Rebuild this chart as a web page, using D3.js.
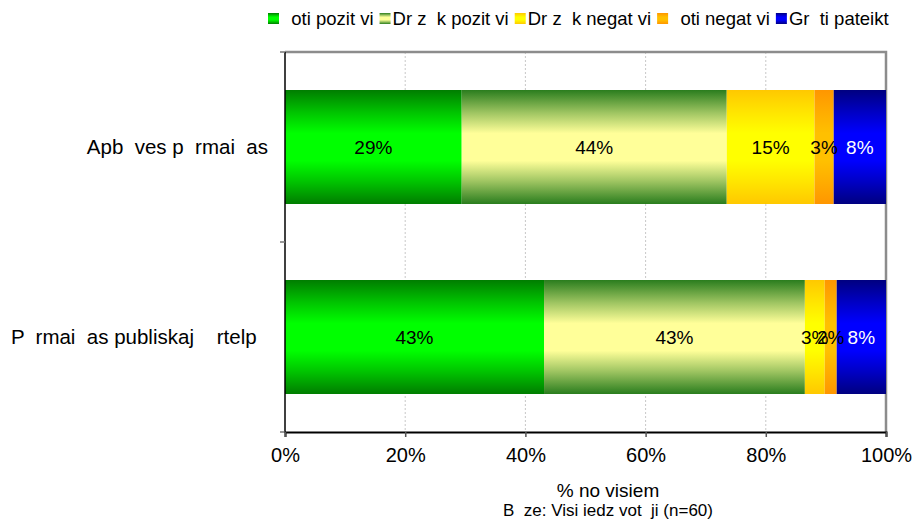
<!DOCTYPE html>
<html><head><meta charset="utf-8">
<script src="https://cdn.jsdelivr.net/npm/d3@7"></script>
<style>
html,body{margin:0;padding:0;background:#fff;}
text{font-family:"Liberation Sans",Arial,sans-serif;white-space:pre;}
</style></head>
<body><svg id="c" width="914" height="521"></svg>
<script>
// ---- data ----
const categories = ["Apb  ves p  rmai  as", "P  rmai  as publiskaj    rtelp  "];
const seriesNames = ["  oti pozit vi", "Dr z  k pozit vi", "Dr z  k negat vi", "  oti negat vi", "Gr  ti pateikt"];
const valuesRow1 = [29.4, 44.1, 14.6, 3.2, 8.7];
const valuesRow2 = [43.1, 43.4, 3.3, 2.0, 8.2];
const labelsRow1 = ["29%", "44%", "15%", "3%", "8%"];
const labelsRow2 = ["43%", "43%", "3%", "2%", "8%"];
const xTicks = [0, 20, 40, 60, 80, 100];
const xTitle = "% no visiem";
const footnote = "B  ze: Visi iedz vot  ji (n=60)";

// ---- styles ----
const gradEdge = ["#007d00", "#2a7d1e", "#ffc800", "#ff9600", "#000080"];
const gradMid  = ["#00ff00", "#ffff99", "#ffff00", "#ffc000", "#0000ff"];
const labelColor = ["#000", "#000", "#000", "#000", "#fff"];

const svg = d3.select("#c");
const L = 285, R = 886, T = 52, B = 432;

const defs = svg.append("defs");
gradEdge.forEach((e, i) => {
  const g = defs.append("linearGradient").attr("id", "g" + i)
    .attr("x1", 0).attr("y1", 0).attr("x2", 0).attr("y2", 1);
  const mix = d3.interpolateRgb(e, gradMid[i]);
  [[0, e], [0.2, mix(0.55)], [0.38, gradMid[i]], [0.62, gradMid[i]], [0.8, mix(0.55)], [1, e]]
    .forEach(([o, c]) => g.append("stop").attr("offset", o).attr("stop-color", c));
});

const x = d3.scaleLinear().domain([0, 100]).range([L, R]);
const y = d3.scaleBand().domain(categories).range([T, B]).paddingInner(0.4).paddingOuter(0.2);

// gridlines
svg.append("g").selectAll("line").data(xTicks.slice(1, -1)).join("line")
  .attr("x1", d => x(d)).attr("x2", d => x(d)).attr("y1", T).attr("y2", B)
  .attr("stroke", "#c8c8c8").attr("stroke-width", 1).attr("stroke-dasharray", "2,2");

// plot border (top, right)
svg.append("path").attr("d", `M${L},${T}H${R}V${B}`).attr("fill", "none")
  .attr("stroke", "#8c8c8c").attr("stroke-width", 2.5);

// bars
const rows = [
  {cat: categories[0], vals: valuesRow1, labs: labelsRow1},
  {cat: categories[1], vals: valuesRow2, labs: labelsRow2}
];
rows.forEach(r => {
  let cum = 0;
  const segs = r.vals.map((v, i) => { const s = {i, x0: cum, x1: cum + v, lab: r.labs[i]}; cum += v; return s; });
  const g = svg.append("g");
  g.selectAll("rect").data(segs).join("rect")
    .attr("x", d => x(d.x0)).attr("width", d => x(d.x1) - x(d.x0))
    .attr("y", y(r.cat)).attr("height", y.bandwidth())
    .attr("fill", d => `url(#g${d.i})`);
  g.selectAll("text").data(segs).join("text")
    .attr("x", d => (x(d.x0) + x(d.x1)) / 2)
    .attr("y", y(r.cat) + y.bandwidth() / 2)
    .attr("dy", "0.35em").attr("text-anchor", "middle")
    .attr("font-size", 19).attr("fill", d => labelColor[d.i])
    .text(d => d.lab);
});

// left axis line & ticks
svg.append("line").attr("x1", L).attr("x2", L).attr("y1", T).attr("y2", B)
  .attr("stroke", "#000").attr("stroke-width", 1.5);
const bounds = [T, T + y.step(), B];
svg.append("g").selectAll("line").data(bounds).join("line")
  .attr("x1", L - 5).attr("x2", L).attr("y1", d => d).attr("y2", d => d)
  .attr("stroke", "#777").attr("stroke-width", 1.5);

// category labels
svg.append("g").selectAll("text").data(categories).join("text")
  .attr("x", 268).attr("y", d => y(d) + y.bandwidth() / 2).attr("dy", "0.35em")
  .attr("text-anchor", "end").attr("font-size", 20.5).attr("fill", "#000")
  .text(d => d);

// bottom axis
const ax = svg.append("g").attr("transform", `translate(0,${B})`)
  .call(d3.axisBottom(x).tickValues(xTicks).tickFormat(d => d + "%").tickSize(5).tickPadding(11));
ax.select(".domain").attr("stroke", "#000").attr("stroke-width", 2);
ax.selectAll(".tick line").attr("stroke", "#555").attr("stroke-width", 1.5);
ax.selectAll(".tick text").attr("font-size", 20).attr("fill", "#000")
  .attr("font-family", "Liberation Sans, Arial, sans-serif");

// axis title & footnote
svg.append("text").attr("x", 608).attr("y", 497).attr("text-anchor", "middle")
  .attr("font-size", 19).attr("fill", "#000").text(xTitle);
svg.append("text").attr("x", 608).attr("y", 516).attr("text-anchor", "middle")
  .attr("font-size", 17).attr("fill", "#000").text(footnote);

// legend
const leg = svg.append("g");
let lx = 268;
seriesNames.forEach((n, i) => {
  leg.append("rect").attr("x", lx).attr("y", 13).attr("width", 11).attr("height", 11)
    .attr("fill", `url(#g${i})`);
  const t = leg.append("text").attr("x", lx + 13).attr("y", 25).attr("font-size", 18.5)
    .attr("fill", "#000").text(n);
  lx += 13 + t.node().getComputedTextLength() + 6;
});
</script></body></html>
